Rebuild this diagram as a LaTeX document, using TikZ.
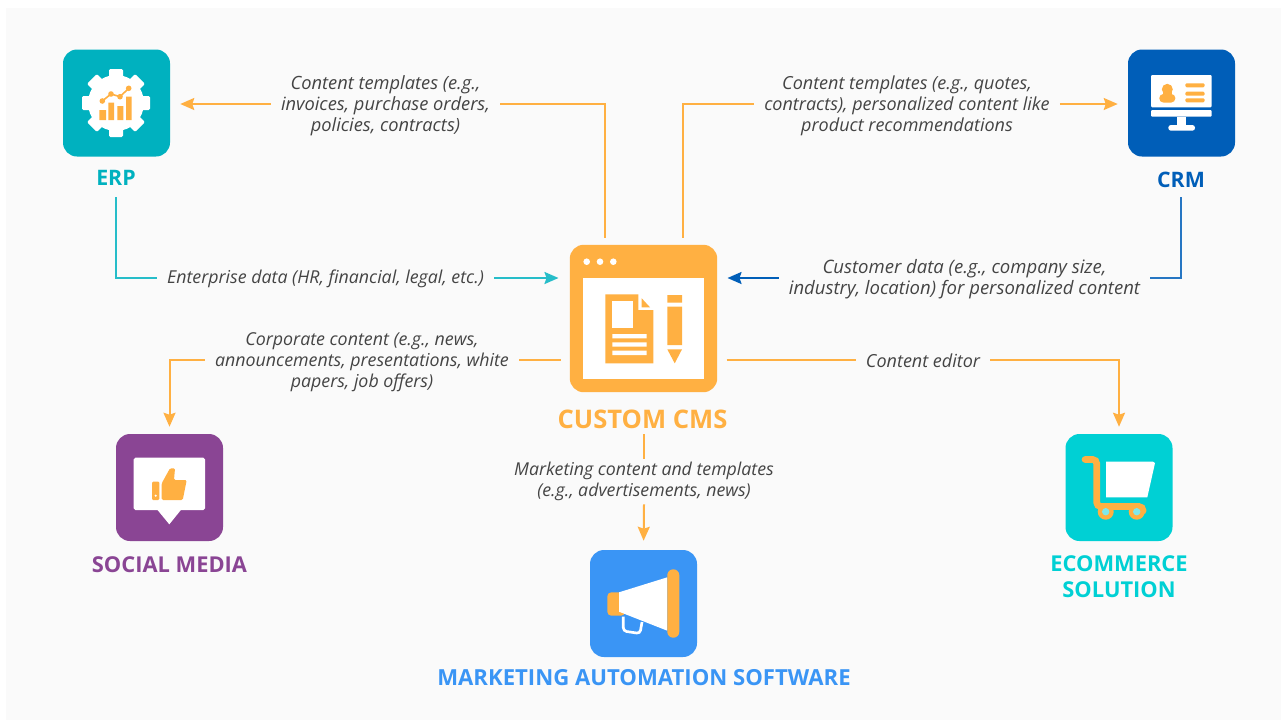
\documentclass[tikz,border=0pt]{standalone}
\usepackage{fontspec}
\setmainfont{Open Sans}
\usetikzlibrary{arrows.meta,calc}
\definecolor{bgc}{HTML}{FAFAFA}
\definecolor{cmso}{HTML}{FFB042}
\definecolor{erpc}{HTML}{00B1BF}
\definecolor{crmc}{HTML}{005EB8}
\definecolor{socc}{HTML}{8A4594}
\definecolor{mktc}{HTML}{3A95F5}
\definecolor{ecoc}{HTML}{00D0D4}
\definecolor{txtc}{HTML}{444444}
\newcommand{\lblfont}[1]{\fontsize{#1}{15.75}\selectfont\itshape}
\newcommand{\hdfont}[1]{\fontsize{#1}{19.5}\selectfont\bfseries}
\tikzset{
  x=0.75pt,y=-0.75pt,
  iconbox/.style={rectangle,rounded corners=10.5pt,minimum size=80.25pt,inner sep=0pt},
  cmsbox/.style={rectangle,rounded corners=10.5pt,minimum size=110.6pt,inner sep=0pt,fill=cmso},
  head/.style={align=center,inner sep=0pt},
  lbl/.style={text=txtc,align=center,inner xsep=7.5pt,inner ysep=2.5pt,execute at begin node={\rule{0pt}{#1}}},
  flow/.style={line width=1.5pt,cmso,-{Stealth[length=10.5pt,width=9pt,inset=1.5pt]}},
  seg/.style={line width=1.5pt,cmso},
}
\begin{document}
\begin{tikzpicture}
\useasboundingbox (0,0) rectangle (1287,722);
\fill[white] (0,0) rectangle (1287,722);
\fill[bgc] (6,8) rectangle (1281,720);
% icon boxes
\node[iconbox,fill=erpc] (erp) at (116.5,103) {};
\node[iconbox,fill=crmc] (crm) at (1181.5,103) {};
\node[cmsbox] (cms) at (643.5,318.5) {};
\node[iconbox,fill=socc] (social) at (169.5,487.5) {};
\node[iconbox,fill=mktc] (mkt) at (643.5,603.5) {};
\node[iconbox,fill=ecoc] (eco) at (1119,487.5) {};
% headings
\node[head,text=erpc,font=\hdfont{16}] (erpl) at (116,177.5) {ERP};
\node[head,text=crmc,font=\hdfont{16}] (crml) at (1181,180) {CRM};
\node[head,text=cmso,font=\hdfont{19.2}] (cmsl) at (642.5,419) {CUSTOM CMS};
\node[head,text=socc,font=\hdfont{16.4}] (socl) at (169.5,564.5) {SOCIAL MEDIA};
\node[head,text=mktc,font=\hdfont{16.6}] (mktl) at (644,677.5) {MARKETING AUTOMATION SOFTWARE};
\node[head,text=ecoc,font=\hdfont{16.4}] (ecol) at (1119,577) {ECOMMERCE\\SOLUTION};
% connector labels
\node[lbl=0pt,font=\lblfont{13.7}] (t1) at (385.5,106) {Content templates (e.g.,\\invoices, purchase orders,\\policies, contracts)};
\node[lbl=0pt,font=\lblfont{13.5}] (t2) at (907,106) {Content templates (e.g., quotes,\\contracts), personalized content like\\product recommendations};
\node[lbl=11pt,font=\lblfont{13.35}] (t3) at (325.5,278) {Enterprise data (HR, financial, legal, etc.)};
\node[lbl=0pt,font=\lblfont{13.9}] (t4) at (964.5,279) {Customer data (e.g., company size,\\industry, location) for personalized content};
\node[lbl=0pt,font=\lblfont{13.35}] (t5) at (362,362) {Corporate content (e.g., news,\\announcements, presentations, white\\papers, job offers)};
\node[lbl=11pt,font=\lblfont{13.5}] (t6) at (923,360) {Content editor};
\node[lbl=0pt,font=\lblfont{13.3}] (t7) at (644,481.5) {Marketing content and templates\\(e.g., advertisements, news)};
% connectors
\draw[seg,shorten <=5.25pt] ([xshift=-29.25pt]cms.north) |- ([yshift=1.5pt]t1.east);
\draw[flow,shorten >=7.5pt] ([yshift=1.5pt]t1.west) -- ([yshift=1.5pt]t1.west -| erp.east);
\draw[seg,shorten <=5.25pt] ([xshift=29.25pt]cms.north) |- ([yshift=1.5pt]t2.west);
\draw[flow,shorten >=7.5pt] ([yshift=1.5pt]t2.east) -- ([yshift=1.5pt]t2.east -| crm.west);
\draw[seg,erpc!85!white,shorten <=9pt] (erpl.south) |- (t3.west);
\draw[flow,erpc!85!white,shorten >=8.25pt] (t3.east) -- (t3.east -| cms.west);
\draw[seg,crmc!85!white,shorten <=7pt] (crml.south) |- ([yshift=0.75pt]t4.east);
\draw[flow,crmc,shorten >=7.5pt] ([yshift=0.75pt]t4.west) -- ([yshift=0.75pt]t4.west -| cms.east);
\draw[seg,shorten <=6.75pt] ([yshift=1.5pt]t5.east -| cms.west) -- ([yshift=1.5pt]t5.east);
\draw[flow,shorten >=5.25pt] ([yshift=1.5pt]t5.west) -| (social.north);
\draw[seg,shorten <=6.75pt] (t6.west -| cms.east) -- (t6.west);
\draw[flow,shorten >=5.25pt] (t6.east) -| (eco.north);
\draw[seg,shorten <=4pt] (t7.north |- cmsl.south) -- (t7.north);
\draw[flow,shorten >=6.75pt] (t7.south) -- (mkt.north);
% ERP icon
\fill[white] (116,103) circle (28);
\foreach \a in {0,45,...,315}
  \fill[white,rotate around={\a:(116,103)},rounded corners=1pt] (109,69) rectangle (123,82);
\fill[cmso] (99.3,110) rectangle (106,120) (108.3,102.7) rectangle (114,120) (117.3,106) rectangle (123.3,120) (126,96.7) rectangle (131.7,120);
\draw[cmso,line width=1.2pt] (102.3,101) -- (111,94) -- (120,96.7) -- (128.7,88.3);
\fill[cmso] (102.3,101) circle (2.8) (111,94) circle (2.8) (120,96.7) circle (2.8) (128.7,88.3) circle (2.8);
% CRM icon
\fill[white,rounded corners=0.8pt] (1151,75) rectangle (1211.7,107.3);
\fill[white,rounded corners=0.8pt] (1151,110) rectangle (1211.7,116.7);
\fill[white] (1177.3,116.7) rectangle (1186,125.5);
\fill[white,rounded corners=2pt] (1168.3,125) rectangle (1195,130.7);
\fill[cmso] (1167.3,89.3) circle (5.5);
\fill[cmso,rounded corners=3pt] (1159.3,102.5) -- (1159.3,94) -- (1175.3,94) -- (1175.3,102.5) -- cycle;
\fill[cmso] (1163,90) rectangle (1171.5,97);
\fill[cmso,rounded corners=1pt] (1185.3,83.3) rectangle (1204.7,87.3) (1185.3,91.7) rectangle (1204.7,95.7) (1185.3,98.3) rectangle (1204.7,102.3);
% CMS icon
\fill[white] (586.7,261.7) circle (3.3) (600,261.7) circle (3.3) (613.3,261.7) circle (3.3);
\fill[white] (582.7,278.3) rectangle (704,379.3);
\fill[cmso] (605.3,294.3) -- (638.3,294.3) -- (638.3,310) -- (653.3,310) -- (653.3,363.3) -- (605.3,363.3) -- cycle;
\fill[cmso] (641.7,298.3) -- (650,307.3) -- (641.7,307.3) -- cycle;
\fill[white] (612.3,301) rectangle (633.3,327.7);
\fill[white] (612.3,334) rectangle (646.7,338.3) (612.3,342.3) rectangle (646.7,346.7) (612.3,350.7) rectangle (646.7,355);
\fill[cmso] (667.3,295) rectangle (682,302.7) (667.3,306.7) rectangle (682,345);
\fill[cmso] (667.3,349.3) -- (682,349.3) -- (674.7,363.3) -- cycle;
% Social icon
\fill[white,rounded corners=1.2pt] (133.7,457.7) rectangle (205,510);
\fill[white] (156.7,509) -- (169.3,524.3) -- (181.7,509) -- cycle;
\fill[cmso,rounded corners=0.8pt] (152,481.7) rectangle (159.3,500);
\fill[white] (155.7,495.7) circle (1.2);
\fill[cmso,rounded corners=1pt] (161.7,483.3) -- (170,468.3) -- (175,468.3) -- (174,480) -- (186.7,480) -- (182.7,500) -- (161.7,500) -- cycle;
% Megaphone icon
\draw[white,line width=2pt,rounded corners=2.5pt] (623.3,616.7) -- (623.3,631) -- (640,633.5) -- (642,622);
\fill[cmso,rounded corners=3pt] (625,592.3) -- (607.3,592.3) -- (607.3,615.7) -- (625,615.7) -- cycle;
\fill[white] (619,592.3) -- (667.3,577.3) -- (667.3,630.7) -- (619,611.7) -- cycle;
\fill[cmso,rounded corners=4.4pt] (667.3,569.3) rectangle (679.3,637.7);
% Cart icon
\fill[white] (1106,461.7) -- (1153,461.7) -- (1155,463) -- (1147.3,497.3) -- (1106,497.3) -- cycle;
\draw[cmso,line width=5pt,line cap=round,rounded corners=3pt] (1085,459.5) -- (1096.7,459.5) -- (1096.7,506.5) -- (1143,506.5) -- (1143,511);
\fill[cmso] (1105.7,511.7) circle (8) (1136.7,511.7) circle (8);
\fill[ecoc!50!white] (1105.7,511.7) circle (3.7) (1136.7,511.7) circle (3.7);
\end{tikzpicture}
\end{document}
